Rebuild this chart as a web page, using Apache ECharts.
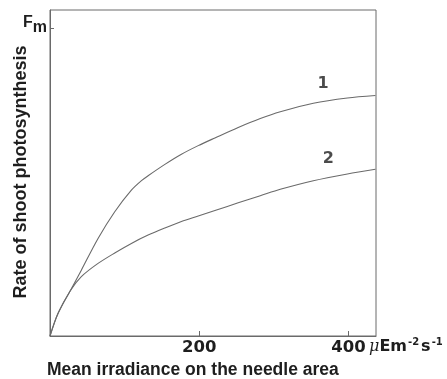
<!DOCTYPE html>
<html>
<head>
<meta charset="utf-8">
<script src="https://cdn.jsdelivr.net/npm/echarts@6/dist/echarts.min.js"></script>
<style>
  html, body { margin: 0; padding: 0; background: #fff; }
  #chart { width: 447px; height: 379px; }
</style>
</head>
<body>
<div id="chart"></div>
<script>
// Irradiance (µE m-2 s-1) sampled along each curve
const irr1 = [0, 10.7, 27.2, 42.0, 64.4, 86.8, 109.1, 122.6, 131.5, 154.0, 176.2, 198.7, 221.1, 252.3, 281.9, 308.7, 353.0, 398.7, 436.2];
const rate1 = [0, 7.3, 14.7, 21.4, 31.7, 40.4, 47.4, 50.5, 52.1, 55.8, 59.1, 61.9, 64.4, 67.8, 70.7, 72.9, 75.7, 77.4, 78.2];

const irr2 = [0, 10.7, 27.2, 42.0, 64.4, 86.8, 109.1, 131.5, 154.0, 176.2, 198.7, 221.1, 252.3, 281.9, 308.7, 353.0, 398.7, 436.2];
const rate2 = [0, 7.3, 14.7, 19.3, 23.6, 27.0, 30.1, 32.8, 35.1, 37.2, 39.0, 40.8, 43.3, 45.6, 47.7, 50.5, 52.7, 54.2];

const xTicks = [200, 400];
const yTicks = [100];          // Fm level
const curveNames = ['1', '2'];
const curveLabelPos = [[366, 82], [373, 57.5]];

const DIGITS = '"DejaVu Sans", Verdana, sans-serif';
const SANS = '"Liberation Sans", Arial, Helvetica, sans-serif';
const INK = '#1e1e1e';
const LINE = '#6a6a6a';

const pairs = (xs, ys) => xs.map((x, i) => [x, ys[i]]);

const chart = echarts.init(document.getElementById('chart'), null, { renderer: 'canvas' });

const curve = (i, xs, ys) => ({
  name: curveNames[i], type: 'line', data: pairs(xs, ys),
  showSymbol: false, smooth: 0.3,
  lineStyle: { color: LINE, width: 1.1 },
  z: 2
});

chart.setOption({
  animation: false,
  backgroundColor: '#fff',
  grid: {
    left: 50, right: 71, top: 10, bottom: 43,
    outerBoundsMode: 'none', containLabel: false,
    show: true, borderColor: LINE, borderWidth: 1, backgroundColor: 'transparent'
  },
  xAxis: {
    type: 'value', min: 0, max: 437,
    axisLine: { show: true, lineStyle: { color: LINE, width: 1 } },
    splitLine: { show: false },
    axisTick: { show: true, inside: true, length: 5, customValues: xTicks, lineStyle: { color: LINE } },
    axisLabel: {
      customValues: xTicks, margin: 3,
      fontFamily: DIGITS, fontWeight: 'bold', fontSize: 16.5, color: INK
    }
  },
  yAxis: {
    type: 'value', min: 0, max: 106,
    axisLine: { show: true, lineStyle: { color: LINE, width: 1 } },
    splitLine: { show: false },
    axisTick: { show: true, inside: true, length: 4, customValues: yTicks, lineStyle: { color: LINE } },
    axisLabel: {
      customValues: yTicks, margin: 3,
      padding: [0, 0, 6, 0],
      formatter: () => '{f|F}{m|m}',
      rich: {
        f: { fontFamily: SANS, fontWeight: 'bold', fontSize: 16, color: INK, verticalAlign: 'bottom', padding: [0, 0, 5, 0] },
        m: { fontFamily: SANS, fontWeight: 'bold', fontSize: 16, color: INK, verticalAlign: 'bottom' }
      }
    }
  },
  graphic: [
    {
      // y-axis title, reading upwards
      type: 'text', x: 21, y: 172, rotation: Math.PI / 2,
      style: {
        text: 'Rate of shoot photosynthesis',
        fontFamily: SANS, fontWeight: 'bold', fontSize: 18, fill: INK,
        align: 'center', verticalAlign: 'middle'
      }
    },
    {
      // x-axis title
      type: 'text', x: 47, y: 370,
      style: {
        text: 'Mean irradiance on the needle area',
        fontFamily: SANS, fontWeight: 'bold', fontSize: 17.5, fill: INK,
        align: 'left', verticalAlign: 'middle'
      }
    },
    {
      // unit after the last tick label
      type: 'text', left: 369, top: 337,
      style: {
        text: '{g|\u03bc}{u|Em}{s|-2}{u|s}{s|-1}',
        rich: {
          g: { fontFamily: '"DejaVu Serif", serif', fontStyle: 'italic', fontSize: 16, fill: INK, verticalAlign: 'bottom' },
          u: { fontFamily: DIGITS, fontWeight: 'bold', fontSize: 16, fill: INK, verticalAlign: 'bottom' },
          s: { fontFamily: DIGITS, fontWeight: 'bold', fontSize: 10, fill: INK, verticalAlign: 'bottom', padding: [0, 2, 8, 1] }
        }
      }
    }
  ],
  series: [
    curve(0, irr1, rate1),
    curve(1, irr2, rate2),
    {
      type: 'scatter', symbolSize: 0, silent: true,
      data: curveLabelPos.map((p, i) => ({ value: p, name: curveNames[i] })),
      label: {
        show: true, position: 'inside', formatter: '{b}',
        fontFamily: DIGITS, fontWeight: 'bold', fontSize: 16, color: INK
      }
    }
  ]
});
</script>
</body>
</html>
